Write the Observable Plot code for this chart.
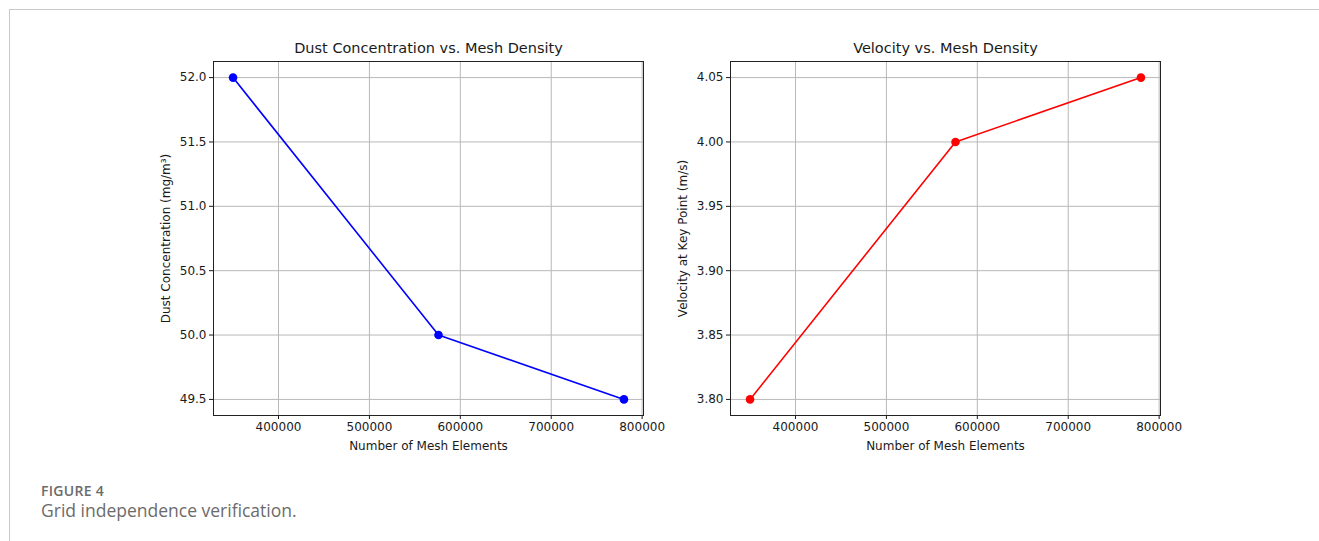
<!DOCTYPE html>
<html>
<head>
<meta charset="utf-8">
<script src="https://cdn.jsdelivr.net/npm/d3@7"></script>
<script src="https://cdn.jsdelivr.net/npm/@observablehq/plot@0.6"></script>
<style>
  html, body { margin: 0; padding: 0; background: #fff; }
  #page { position: relative; width: 1319px; height: 541px; overflow: hidden; background: #fff; }
  #box { position: absolute; left: 9px; top: 9px; width: 1320px; height: 540px; border-top: 1px solid #c8c8c8; border-left: 1px solid #c8c8c8; }
  .panel { position: absolute; top: 30px; }
  .panel svg { overflow: visible; }
  #fig { position: absolute; left: 41px; top: 481px; font-family: "Open Sans", sans-serif; font-size: 14px; font-weight: 600; color: #6b6b6b; letter-spacing: 0.3px; }
  #cap { position: absolute; left: 41px; top: 498px; font-family: "Open Sans", sans-serif; font-size: 17.5px; color: #6b6b6b; }
</style>
</head>
<body>
<div id="page">
  <div id="box"></div>
  <div id="right" class="panel" style="left:660px"></div>
  <div id="left" class="panel" style="left:140px"></div>
  <div id="fig">FIGURE 4</div>
  <div id="cap">Grid independence verification.</div>
</div>
<script>
const meshElements = [350000, 576000, 780000];
const dustConcentration = [52.0, 50.0, 49.5];
const velocity = [3.80, 4.00, 4.05];
const xTicks = [400000, 500000, 600000, 700000, 800000];
const dustTicks = [49.5, 50.0, 50.5, 51.0, 51.5, 52.0];
const velocityTicks = [3.80, 3.85, 3.90, 3.95, 4.00, 4.05];
const xLabel = "Number of Mesh Elements";

function padDomain(vals) {
  const lo = d3.min(vals), hi = d3.max(vals), m = (hi - lo) * 0.05;
  return [lo - m, hi + m];
}

function makeChart({ yVals, yTicks, yFmt, color, title, yLabel, marginLeft, marginRight }) {
  const data = meshElements.map((x, i) => ({ x, y: yVals[i] }));
  return Plot.plot({
    width: 520,
    height: 430,
    marginLeft,
    marginRight,
    marginTop: 31,
    marginBottom: 45,
    style: { fontFamily: "DejaVu Sans", fontSize: "12px", color: "#1a1a1a", background: "transparent", overflow: "visible" },
    x: { domain: padDomain(meshElements) },
    y: { domain: padDomain(yVals) },
    marks: [
      Plot.gridX(xTicks, { stroke: "#b8b8b8", strokeOpacity: 1 }),
      Plot.gridY(yTicks, { stroke: "#b8b8b8", strokeOpacity: 1 }),
      Plot.axisX(xTicks, { tickFormat: d => String(d), tickSize: 4, tickPadding: 3, label: null }),
      Plot.axisY(yTicks, { tickFormat: yFmt, tickSize: 4, tickPadding: 3, label: null }),
      Plot.frame({ stroke: "#222" }),
      Plot.line(data, { x: "x", y: "y", stroke: color, strokeWidth: 1.6 }),
      Plot.dot(data, { x: "x", y: "y", fill: color, r: 4.3 }),
      Plot.text([title], { text: d => d, frameAnchor: "top", dy: -13, lineAnchor: "middle", fontSize: 14.5 }),
      Plot.text([xLabel], { text: d => d, frameAnchor: "bottom", dy: 31, lineAnchor: "middle" }),
      Plot.text([yLabel], { text: d => d, frameAnchor: "left", dx: -47, rotate: -90, textAnchor: "middle", lineAnchor: "middle" })
    ]
  });
}

document.getElementById("left").append(makeChart({
  yVals: dustConcentration, yTicks: dustTicks, yFmt: d3.format(".1f"), color: "#0000ff",
  title: "Dust Concentration vs. Mesh Density", yLabel: "Dust Concentration (mg/m³)",
  marginLeft: 73, marginRight: 17
}));
document.getElementById("right").append(makeChart({
  yVals: velocity, yTicks: velocityTicks, yFmt: d3.format(".2f"), color: "#ff0000",
  title: "Velocity vs. Mesh Density", yLabel: "Velocity at Key Point (m/s)",
  marginLeft: 70, marginRight: 20
}));
</script>
</body>
</html>
